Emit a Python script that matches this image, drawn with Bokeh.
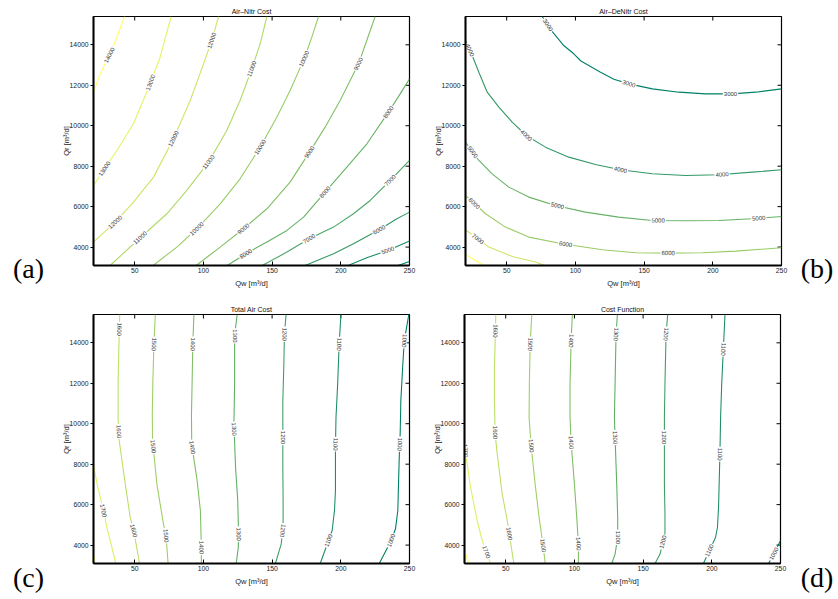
import math

from bokeh.core.properties import value
from bokeh.embed import file_html
from bokeh.layouts import column, row
from bokeh.models import (BasicTickFormatter, ColumnDataSource, FixedTicker,
                          Range1d, Spacer)
from bokeh.plotting import figure
from bokeh.resources import INLINE

# ---------------------------------------------------------------- data ----
qw_limits = (20, 250)
qr_limits = (3090, 15400)
qw_ticks = [50, 100, 150, 200, 250]
qr_ticks = [4000, 6000, 8000, 10000, 12000, 14000]

# Air-Nitr cost: contour level -> (Qw, Qr) vertices
nitr_lines = {
    14000: [(20, 11660), (24.9, 12565), (32.1, 13553), (37.5, 14459), (42.6, 15400)],
    13000: [(20, 7048), (28, 7870), (37, 8776), (49.1, 10094), (61.2, 12070), (68.5, 13388), (76.5, 15400)],
    12000: [(20, 4247), (35.8, 5235), (49.1, 6223), (63.7, 7459), (78.2, 9353), (90.4, 11247),
            (100.1, 13059), (106.1, 14212), (111, 15400)],
    11000: [(32.1, 3090), (54, 4461), (73.4, 5647), (87.9, 6800), (103.7, 8200), (117, 9765),
            (126.7, 11247), (135.2, 12812), (141.3, 14047), (146.2, 15400)],
    10000: [(63.4, 3090), (80.7, 4000), (95.2, 4906), (112.2, 6141), (126.7, 7376), (141.3, 8941),
            (153.4, 10423), (163.1, 11741), (173.3, 13306), (178.9, 14377), (183.8, 15400)],
    9000: [(94.7, 3090), (112.2, 4000), (129.2, 4906), (146.2, 5894), (163.1, 7212), (177.2, 8694),
           (188.6, 9929), (199.5, 11247), (206.8, 12235), (212.9, 13059), (218.9, 14212), (225, 15400)],
    8000: [(117.3, 3090), (130.9, 3671), (146.2, 4247), (160.8, 4824), (172.9, 5483), (188.6, 6718),
           (204.4, 7953), (219, 9106), (234.7, 10670), (243.2, 11576), (250, 12317)],
    7000: [(142.8, 3090), (160.8, 3753), (177, 4412), (194.7, 4988), (209.2, 5647), (221.4, 6306),
           (236, 7294), (250, 8282)],
    6000: [(174, 3090), (194.7, 3671), (209.2, 4165), (227.9, 4856), (240.8, 5400), (250, 5729)],
    5000: [(205.3, 3090), (218.9, 3473), (234.2, 3835), (250, 4296)],
    4000: [(241.7, 3090), (250, 3292)],
}
nitr_labels = {
    14000: [(32.1, 13470)],
    13000: [(28, 7870), (61.2, 12153)],
    12000: [(35.8, 5235), (78.2, 9353), (106.1, 14211)],
    11000: [(54, 4461), (103.7, 8200), (135.2, 12812)],
    10000: [(95.2, 4906), (141.3, 8941), (173.3, 13306)],
    9000: [(129.2, 4906), (177.2, 8694), (212.9, 13059)],
    8000: [(130.9, 3671), (188.6, 6718), (234.7, 10670)],
    7000: [(177, 4412), (236, 7294)],
    6000: [(227.9, 4856)],
    5000: [(234.2, 3835)],
}

# Air-DeNitr cost
denitr_lines = {
    3000: [(75.8, 15400), (83.5, 14623), (91.5, 13964), (98.8, 13556), (104, 13200), (118.3, 12647),
           (128, 12300), (139, 12070), (156, 11823), (175.3, 11659), (194.7, 11576), (214.1, 11576),
           (231.1, 11659), (250, 11823)],
    4000: [(20, 14211), (24.9, 13470), (29.7, 12647), (35.8, 11659), (44.3, 10917), (54, 10176),
           (64.2, 9517), (78.2, 8941), (95.2, 8447), (114.6, 8085), (132.8, 7821), (155.9, 7623),
           (180.1, 7541), (204.4, 7574), (228.6, 7706), (250, 7821)],
    5000: [(20, 9188), (29.7, 8282), (39.4, 7623), (51.5, 6965), (66.1, 6471), (85.5, 6059),
           (107.3, 5729), (131.5, 5482), (155.9, 5318), (180.1, 5302), (204.4, 5318), (228.6, 5400),
           (250, 5515)],
    6000: [(20, 6553), (34.6, 5647), (49.1, 4988), (66.1, 4494), (90.4, 4165), (119.5, 3868),
           (143.8, 3720), (168.1, 3703), (192.4, 3720), (216.6, 3802), (250, 3967)],
    7000: [(20, 4856), (37, 4000), (54, 3539), (71, 3259), (77.7, 3090)],
    8000: [(20, 3638), (33.3, 3090)],
}
denitr_labels = {
    3000: [(79.4, 14953), (138.9, 12070), (212.9, 11576)],
    4000: [(22.4, 13717), (64.2, 9517), (132.8, 7821), (206.8, 7574)],
    5000: [(24.9, 8694), (86.7, 5976), (160.2, 5285), (233.5, 5400)],
    6000: [(26.1, 6141), (92.8, 4132), (167.5, 3704)],
    7000: [(28.5, 4362)],
}

# Total air cost
air_lines = {
    1800: [(20, 3550), (21.5, 3090)],
    1700: [(20, 7950), (23, 6900), (26.1, 6042), (29.7, 4885), (33, 4000), (36.2, 3090)],
    1600: [(39.1, 15400), (38.4, 13600), (37.9, 11955), (37.9, 10308), (38.7, 9171), (43.1, 7030),
           (46.7, 5380), (49.3, 4700), (53.5, 3090)],
    1500: [(65, 15400), (64, 13930), (63.2, 12100), (62.8, 10455), (63, 9171), (66.1, 7030),
           (70.9, 5053), (72.8, 4461), (74.3, 3090)],
    1400: [(93.1, 15400), (92.3, 14000), (91.8, 12100), (91.3, 10455), (91.5, 8970), (95.4, 7200),
           (97.8, 5700), (98.5, 3885), (98.5, 3090)],
    1300: [(124.6, 15400), (122.7, 14400), (122.7, 11955), (122.2, 10000), (123.4, 7840), (125, 6190),
           (125.6, 4500), (125.4, 3900), (123.9, 3090)],
    1200: [(160.2, 15400), (159, 14500), (158.5, 12800), (157.8, 11130), (157.8, 9480), (157.8, 7840),
           (158, 6190), (158, 4870), (156.6, 4050), (152.4, 3090)],
    1100: [(200.1, 15400), (198.8, 13930), (197.7, 11955), (196.5, 10305), (196.1, 8820), (196.1, 6696),
           (195.4, 5708), (193.7, 4720), (185, 3090)],
    1000: [(249.5, 15400), (246.2, 14100), (245, 12778), (243.7, 11131), (243.2, 9485), (242.7, 8677),
           (242.2, 7525), (241.5, 5708), (239.8, 4805), (236.7, 4227), (228, 3090)],
}
air_labels = {
    1700: [(26.5, 5700)],
    1600: [(38.4, 14673), (38.4, 9616), (49.3, 4708)],
    1500: [(63.3, 13931), (63.3, 8875), (73, 4461)],
    1400: [(92.4, 13931), (91.2, 8826), (98.5, 3885)],
    1300: [(122.7, 14343), (122.7, 9732), (125.6, 4544)],
    1200: [(159, 14426), (157.7, 9320), (157.7, 4708)],
    1100: [(198.9, 13931), (196, 8990), (191, 4227)],
    1000: [(246.2, 14096), (243, 8990), (236.7, 4227)],
}

# Cost function
cost_lines = {
    1800: [(20, 3700), (23.2, 3090)],
    1700: [(20, 9320), (20.7, 8593), (24.4, 6862), (29.2, 5216), (32.9, 4227), (38.9, 3090)],
    1600: [(42.8, 15400), (41.8, 12778), (41.8, 11131), (42.3, 9485), (43.8, 8513), (47.4, 6536),
           (51.1, 5216), (55.9, 3090)],
    1500: [(69, 15400), (67.8, 13931), (67.2, 11955), (67, 10300), (68.5, 8908), (71.4, 7014),
           (74.3, 5367), (76.7, 4214), (78.8, 3090)],
    1400: [(98.5, 15400), (97.6, 14096), (96.8, 11955), (96.8, 10308), (97.6, 9073), (100, 7014),
           (101.7, 5367), (102.9, 4049), (102.9, 3090)],
    1300: [(131.3, 15400), (130.3, 14426), (129.6, 11955), (129.1, 10308), (129.6, 9320), (130.8, 7014),
           (131.5, 5367), (131.5, 4379), (129.6, 3555), (127.2, 3090)],
    1200: [(167.9, 15400), (166.7, 14426), (165.9, 11955), (165.5, 10308), (165.5, 7014), (165.9, 5532),
           (165.9, 4544), (162.3, 3555), (158.7, 3090)],
    1100: [(209.6, 15400), (208.4, 13684), (207.2, 11955), (206.4, 10308), (205.9, 8496), (204.9, 5859),
           (204.1, 4870), (202.7, 4375), (193.9, 3090)],
    1000: [(241.3, 3090), (245.5, 3600), (250, 4230)],
}
cost_labels = {
    1700: [(21.2, 8661), (35.3, 3644)],
    1600: [(42.3, 14590), (42.8, 9567), (52.2, 4558)],
    1500: [(67.8, 13931), (68.5, 8908), (76.6, 3980)],
    1400: [(97.6, 14096), (97.6, 9073), (102.5, 4063)],
    1300: [(130.3, 14426), (129.6, 9320), (131.5, 4379)],
    1200: [(166.7, 14426), (165.5, 9320), (165.5, 4132)],
    1100: [(208.4, 13684), (205.9, 8496), (198.3, 3733)],
    1000: [(244.9, 3584)],
}

# ------------------------------------------------------------- styling ----
FRAME_W, FRAME_H = 316, 249
SANS = "Liberation Sans"
SERIF = "Liberation Serif"
PX_X = FRAME_W / (qw_limits[1] - qw_limits[0])
PX_Y = FRAME_H / (qr_limits[1] - qr_limits[0])
TICK_LEN = 4


def summer(level, lo, hi):
    """MATLAB 'summer' colormap: dark green for low levels, yellow for high."""
    t = (level - lo) / (hi - lo)
    r, g, b = t, 0.5 + 0.5 * t, 0.4
    return "#%02x%02x%02x" % (round(r * 255), round(g * 255), round(b * 255))


def snap_to_line(line, pt):
    """Nearest point on a polyline (in screen space) and the text angle there."""
    px, py = pt[0] * PX_X, pt[1] * PX_Y
    best = None
    for (x0, y0), (x1, y1) in zip(line[:-1], line[1:]):
        ax, ay, bx, by = x0 * PX_X, y0 * PX_Y, x1 * PX_X, y1 * PX_Y
        dx, dy = bx - ax, by - ay
        seg = dx * dx + dy * dy
        t = 0.0 if seg == 0 else max(0.0, min(1.0, ((px - ax) * dx + (py - ay) * dy) / seg))
        qx, qy = ax + t * dx, ay + t * dy
        d = (qx - px) ** 2 + (qy - py) ** 2
        if best is None or d < best[0]:
            best = (d, qx, qy, math.atan2(dy, dx))
    _, qx, qy, ang = best
    if ang > math.pi / 2:
        ang -= math.pi
    elif ang <= -math.pi / 2:
        ang += math.pi
    if ang > math.radians(80):
        ang -= math.pi
    return qx / PX_X, qy / PX_Y, ang


def make_panel(title, lines, labels, border):
    left, right, top, bottom = border
    p = figure(x_range=Range1d(*qw_limits), y_range=Range1d(*qr_limits),
               frame_width=FRAME_W, frame_height=FRAME_H,
               min_border_left=left, min_border_right=right,
               min_border_top=top, min_border_bottom=bottom,
               output_backend="svg", toolbar_location=None,
               background_fill_color="white", border_fill_color="white")
    p.xgrid.visible = False
    p.ygrid.visible = False
    p.outline_line_color = "black"
    p.outline_line_width = 1.2

    p.title.text = title
    p.title.align = "center"
    p.title.text_font = SANS
    p.title.text_font_size = "7px"
    p.title.text_font_style = "normal"
    p.title.text_color = "#111111"
    p.title.standoff = 4

    fmt = BasicTickFormatter(use_scientific=False)
    for ax in p.xaxis:
        ax.ticker = FixedTicker(ticks=qw_ticks)
        ax.axis_label = "Qw [m³/d]"
        ax.major_tick_in, ax.major_tick_out = TICK_LEN, 0
        ax.major_label_standoff = 2
        ax.axis_label_standoff = 3
    for ax in p.yaxis:
        ax.ticker = FixedTicker(ticks=qr_ticks)
        ax.axis_label = "Qr [m³/d]"
        ax.major_tick_in, ax.major_tick_out = 0, 3
        ax.major_label_standoff = 2
        ax.axis_label_standoff = -4
    for ax in list(p.xaxis) + list(p.yaxis):
        ax.formatter = fmt
        ax.minor_tick_line_color = None
        ax.axis_line_width = 2
        ax.major_tick_line_width = 1
        ax.major_label_text_font = SANS
        ax.major_label_text_font_size = "6.8px"
        ax.major_label_text_color = "#1a1a1a"
        ax.axis_label_text_font = SANS
        ax.axis_label_text_font_size = "7.5px"
        ax.axis_label_text_font_style = "normal"
        ax.axis_label_text_color = "#1a1a1a"

    # inward box ticks along the top and right edges
    dy = TICK_LEN / PX_Y
    dx = TICK_LEN / PX_X
    p.segment(x0=qw_ticks, x1=qw_ticks, y0=[qr_limits[1]] * len(qw_ticks),
              y1=[qr_limits[1] - dy] * len(qw_ticks), line_color="black", line_width=1)
    p.segment(x0=[qw_limits[1]] * len(qr_ticks), x1=[qw_limits[1] - dx] * len(qr_ticks),
              y0=qr_ticks, y1=qr_ticks, line_color="black", line_width=1)

    levels = sorted(lines)
    lo, hi = levels[0], levels[-1]
    p.multi_line(xs=[[v[0] for v in lines[k]] for k in levels],
                 ys=[[v[1] for v in lines[k]] for k in levels],
                 line_color=[summer(k, lo, hi) for k in levels], line_width=1.1)

    lx, ly, la, lt = [], [], [], []
    for k, pts in labels.items():
        for pt in pts:
            x, y, a = snap_to_line(lines[k], pt)
            lx.append(x)
            ly.append(y)
            la.append(a)
            lt.append(str(k))
    src = ColumnDataSource(dict(x=lx, y=ly, angle=la, text=lt))
    p.text(x="x", y="y", text="text", angle="angle", source=src,
           text_font=value(SANS), text_font_size="6px", text_color="#333333",
           text_align="center", text_baseline="middle",
           background_fill_color="white", padding=1)
    return p


def make_tag(text, width, height):
    """Small panel holding a sub-figure letter such as (a)."""
    t = figure(width=width, height=height, x_range=Range1d(0, 1), y_range=Range1d(0, 1),
               x_axis_location=None, y_axis_location=None, min_border=0,
               output_backend="svg", toolbar_location=None)
    t.xgrid.visible = False
    t.ygrid.visible = False
    t.outline_line_color = None
    t.text(x=[0.5], y=[0.5], text=[text], text_font=value(SERIF), text_font_size="28px",
           text_color="black", text_align="center", text_baseline="middle")
    return t


pa = make_panel("Air–Nitr Cost", nitr_lines, nitr_labels, (37, 10, 16, 35))
pb = make_panel("Air–DeNitr Cost", denitr_lines, denitr_labels, (46, 14, 16, 35))
pc = make_panel("Total Air Cost", air_lines, air_labels, (37, 10, 14, 36))
pd = make_panel("Cost Function", cost_lines, cost_labels, (45, 15, 14, 36))

tag_a = column(Spacer(width=56, height=246), make_tag("(a)", 56, 44), Spacer(width=56, height=10), spacing=0)
tag_b = column(Spacer(width=43, height=246), make_tag("(b)", 43, 44), Spacer(width=43, height=10), spacing=0)
tag_c = column(Spacer(width=56, height=255), make_tag("(c)", 56, 44), spacing=0)
tag_d = column(Spacer(width=43, height=255), make_tag("(d)", 43, 44), spacing=0)

layout = column(row(tag_a, pa, pb, tag_b, spacing=0),
                row(tag_c, pc, pd, tag_d, spacing=0), spacing=0)
open("out.html", "w").write(file_html(layout, INLINE))
